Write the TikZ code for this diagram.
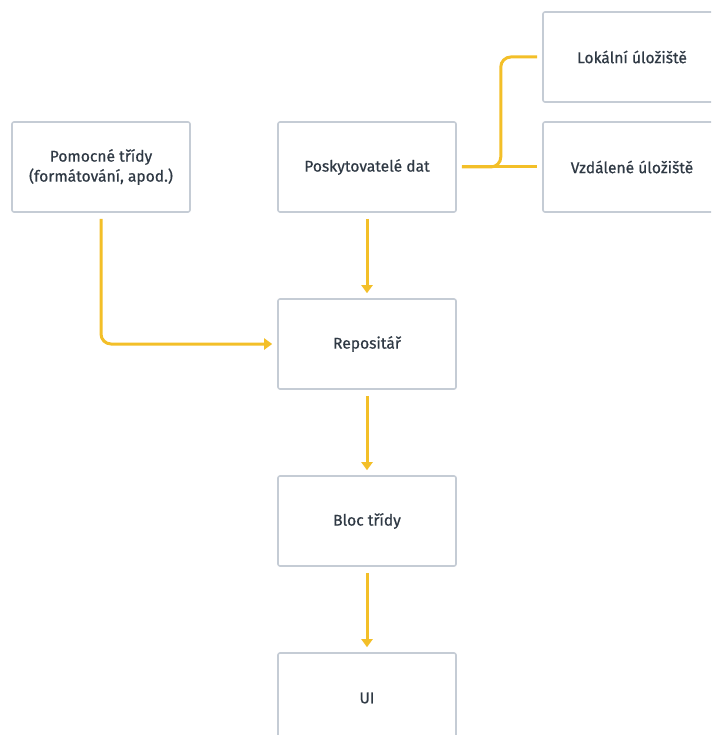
\documentclass[tikz,border=0pt]{standalone}
\usepackage{fontspec}
\setmainfont{Fira Sans}[UprightFeatures = {FakeBold = 0.6}]
\usetikzlibrary{arrows.meta}

\definecolor{linkyellow}{HTML}{F3BF28}
\definecolor{boxgray}{HTML}{C5CCD5}
\definecolor{textgray}{HTML}{2F3944}

\begin{document}
\begin{tikzpicture}[x = 1pt, y = -1pt,
	block/.style = {draw = boxgray, line width = 1.6pt, rounded corners = 2pt, fill = white, minimum width = 178pt, minimum height = 90pt, align = center, text = textgray, font = \fontsize{15.6}{20}\selectfont},
	link/.style = {draw = linkyellow, line width = 3pt, rounded corners = 10pt},
	flow/.style = {link, -{Triangle[width = 11pt, length = 8pt]}, shorten < = 6pt, shorten > = 5pt}]

	\useasboundingbox (0, 0) rectangle (711, 735);
	\clip (0, 0) rectangle (711, 735);

	\node[block] (helpers) at (101, 167) {Pomocné třídy\\(formátování, apod.)};
	\node[block] (providers) at (367, 167) {Poskytovatelé dat};
	\node[block] (local) at (632, 57) {Lokální úložiště};
	\node[block] (remote) at (632, 167) {Vzdálené úložiště};
	\node[block] (repo) at (367, 344) {Repositář};
	\node[block] (bloc) at (367, 521) {Bloc třídy};
	\node[block] (ui) at (367, 698) {UI};

	\draw[link, shorten < = 5pt, shorten > = 5pt] (providers.east) -- (remote.west);
	\draw[link, shorten < = 5pt, shorten > = 5pt] (providers.east) -- ++(44, 0) |- (local.west);

	\draw[flow] (helpers.south) |- (repo.west);
	\draw[flow] (providers.south) -- (repo.north);
	\draw[flow] (repo.south) -- (bloc.north);
	\draw[flow] (bloc.south) -- (ui.north);
\end{tikzpicture}
\end{document}
